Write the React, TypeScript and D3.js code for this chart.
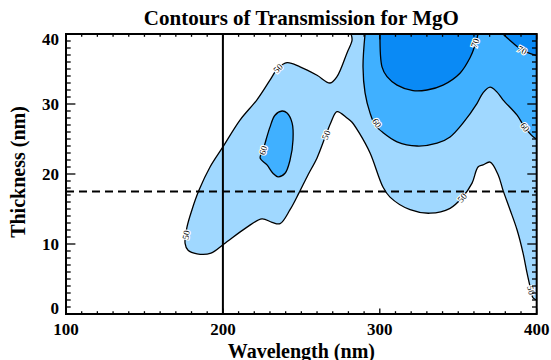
import React from 'react';
import * as d3 from 'd3';

// ---------- data (wavelength nm, thickness nm) ----------
const xTicks = [100, 200, 300, 400];
const yTicks = [0, 10, 20, 30, 40];
const levelColors = ['#a0d8ff', '#40b0ff', '#0a8af5'];

// 50% contour (open: top edge -> right edge)
const contour50: [number, number][] = [
  [281.7, 40], [282.3, 39.1], [279.1, 37.3], [272.7, 33.9], [268.3, 33.0], [260.0, 34.1],
  [249.2, 35.3], [240.9, 35.9], [235.1, 35.1], [230.0, 33.4], [221.7, 30.6], [210.9, 27.7],
  [200.1, 23.9], [191.8, 21.0], [184.8, 17.7], [180.3, 14.9], [177.1, 12.4], [175.9, 10.1],
  [177.8, 9.1], [183.5, 8.6], [192.4, 8.7], [200.7, 10.0], [214.7, 12.3], [224.9, 13.6],
  [231.3, 13.1], [236.4, 12.9], [242.8, 14.9], [248.5, 17.3], [254.3, 19.9], [260.0, 22.3],
  [265.7, 25.6], [268.9, 27.4], [272.7, 28.9], [279.1, 28.0], [282.3, 27.4], [286.8, 25.9],
  [293.8, 23.0], [302.1, 18.1], [306.5, 16.7], [319.3, 14.9], [332.0, 14.4], [344.8, 15.1],
  [352.4, 16.6], [358.8, 18.7], [362.6, 21.0], [365.8, 21.3], [370.3, 21.7], [375.4, 19.9],
  [378.5, 17.7], [383.0, 14.9], [387.5, 12.0], [391.3, 8.7], [393.8, 5.9], [395.8, 3.9],
  [397.7, 2.3], [400, 2.0],
];
// 60% closed island
const contour60a: [number, number][] = [
  [237.7, 29.0], [240.9, 28.7], [244.1, 27.3], [244.7, 24.9], [242.8, 22.0], [239.6, 20.1],
  [235.1, 19.6], [231.9, 20.1], [228.1, 21.3], [223.7, 22.3], [225.6, 23.4], [227.5, 24.9],
  [230.0, 26.7], [233.2, 28.4],
];
// 60% open (top edge -> right edge)
const contour60b: [number, number][] = [
  [290.6, 40], [289.3, 35.3], [290.6, 31.6], [293.8, 28.7], [297.0, 27.0], [302.1, 25.9],
  [311.0, 24.6], [323.7, 24.0], [336.5, 24.4], [344.8, 25.3], [353.1, 27.3], [362.0, 30.1],
  [365.8, 31.6], [370.3, 32.4], [374.7, 31.7], [378.5, 30.6], [387.5, 28.4], [392.6, 26.6],
  [399.0, 25.1], [400, 25.0],
];
// 70% open (top edge -> top edge)
const contour70a: [number, number][] = [
  [300.1, 40], [301.4, 35.3], [304.6, 33.9], [311.0, 32.7], [321.2, 31.9], [330.1, 32.0],
  [340.3, 32.7], [351.1, 34.4], [357.5, 36.6], [360.7, 38.4], [362.6, 40],
];
// 70% open (top edge -> right edge)
const contour70b: [number, number][] = [
  [378.5, 40], [384.9, 38.7], [390.7, 37.7], [400, 36.9],
];

const contourLabels = [
  { text: '50', c: 0, at: [235.1, 35.1] },
  { text: '50', c: 0, at: [176.5, 11.3] },
  { text: '60', c: 1, at: [225.6, 23.4] },
  { text: '50', c: 0, at: [265.7, 25.6] },
  { text: '60', c: 2, at: [298.2, 27.3] },
  { text: '70', c: 3, at: [360.7, 38.7] },
  { text: '70', c: 4, at: [390.7, 37.7] },
  { text: '60', c: 2, at: [392.6, 26.7] },
  { text: '50', c: 0, at: [352.4, 16.6] },
  { text: '50', c: 0, at: [396.4, 3.4] },
];

const verticalRef = 200;
const dashedRef = 17.5;

// ---------- layout ----------
const W = 551, H = 360;
const L = 66, R = 536.7, T = 34, B = 314;
const FONT = '"Liberation Serif", "DejaVu Serif", serif';

export default function App() {
  const x = d3.scaleLinear().domain([100, 400]).range([L, R]);
  const y = d3.scaleLinear().domain([0, 40]).range([B, T]);

  const line = d3.line<[number, number]>().x(d => x(d[0])).y(d => y(d[1])).curve(d3.curveCatmullRom.alpha(0.5));
  const closedLine = d3.line<[number, number]>().x(d => x(d[0])).y(d => y(d[1])).curve(d3.curveCatmullRomClosed.alpha(0.5));

  const c50 = line(contour50)!;
  const c60a = closedLine(contour60a)!;
  const c60b = line(contour60b)!;
  const c70a = line(contour70a)!;
  const c70b = line(contour70b)!;
  const corner = `L${x(400)},${y(40)}Z`;

  const contours = [contour50, contour60a, contour60b, contour70a, contour70b];

  const labelAngle = (pts: [number, number][], at: number[]) => {
    let best = 0, bd = Infinity;
    pts.forEach((p, i) => {
      const d = (p[0] - at[0]) ** 2 + ((p[1] - at[1]) * 7) ** 2;
      if (d < bd) { bd = d; best = i; }
    });
    const a = pts[Math.max(0, best - 1)], b = pts[Math.min(pts.length - 1, best + 1)];
    let ang = Math.atan2(y(b[1]) - y(a[1]), x(b[0]) - x(a[0])) * 180 / Math.PI;
    if (ang > 90) ang -= 180;
    if (ang < -90) ang += 180;
    return ang;
  };

  const xMinor = d3.range(100, 401, 10);
  const yMinor = d3.range(0, 41, 1);
  const xMaj = 5.6, xMin = 2.8, yMaj = 9.4, yMin = 4.7;

  return (
    <svg width={W} height={H} style={{ position: 'absolute', left: 0, top: 0, background: '#fff' }}>
      <defs>
        <clipPath id="plot"><rect x={L} y={T} width={R - L} height={B - T} /></clipPath>
      </defs>
      <g clipPath="url(#plot)">
        <path d={c50 + corner} fill={levelColors[0]} />
        <path d={c60a} fill={levelColors[1]} />
        <path d={c60b + corner} fill={levelColors[1]} />
        <path d={c70a + 'Z'} fill={levelColors[2]} />
        <path d={c70b + corner} fill={levelColors[2]} />
        {[c50, c60a, c60b, c70a, c70b].map((d, i) => (
          <path key={i} d={d} fill="none" stroke="#000" strokeWidth={1.3} strokeLinejoin="round" />
        ))}
        {contourLabels.map((lb, i) => {
          const ang = labelAngle(contours[lb.c], lb.at);
          return (
            <text key={i} transform={`translate(${x(lb.at[0])},${y(lb.at[1])}) rotate(${ang})`}
              textAnchor="middle" dy="0.35em" fontSize={9} fontFamily={FONT}
              fill="#000" stroke="#fff" strokeWidth={2.2} paintOrder="stroke">{lb.text}</text>
          );
        })}
        <line x1={x(verticalRef)} x2={x(verticalRef)} y1={T} y2={B} stroke="#000" strokeWidth={2} />
        <line x1={L} x2={R} y1={y(dashedRef)} y2={y(dashedRef)} stroke="#000" strokeWidth={2} strokeDasharray="8,5" />
      </g>

      {/* ticks */}
      <g stroke="#000" strokeWidth={1.3}>
        {xMinor.map(v => {
          const len = v % 100 === 0 ? xMaj : xMin;
          return (
            <g key={'x' + v}>
              <line x1={x(v)} x2={x(v)} y1={B} y2={B - len} />
              <line x1={x(v)} x2={x(v)} y1={T} y2={T + len} />
            </g>
          );
        })}
        {yMinor.map(v => {
          const len = v % 10 === 0 ? yMaj : yMin;
          return (
            <g key={'y' + v}>
              <line x1={L} x2={L + len} y1={y(v)} y2={y(v)} />
              <line x1={R} x2={R - len} y1={y(v)} y2={y(v)} />
            </g>
          );
        })}
      </g>
      <rect x={L} y={T} width={R - L} height={B - T} fill="none" stroke="#000" strokeWidth={2} />

      {/* labels */}
      <g fontFamily={FONT} fontWeight="bold" fontSize={17} fill="#000">
        {xTicks.map(v => (
          <text key={v} x={x(v)} y={335} textAnchor="middle">{v}</text>
        ))}
        {yTicks.map(v => {
          const cy = Math.min(Math.max(y(v), T + 4.5), B - 6);
          return <text key={v} x={59} y={cy + 6} textAnchor="end">{v}</text>;
        })}
        <text x={(L + R) / 2} y={358} textAnchor="middle" fontSize={20}>Wavelength (nm)</text>
        <text transform={`translate(25,${(T + B) / 2 - 2}) rotate(-90)`} textAnchor="middle" fontSize={20}>Thickness (nm)</text>
        <text x={(L + R) / 2} y={25} textAnchor="middle" fontSize={21}>Contours of Transmission for MgO</text>
      </g>
    </svg>
  );
}
